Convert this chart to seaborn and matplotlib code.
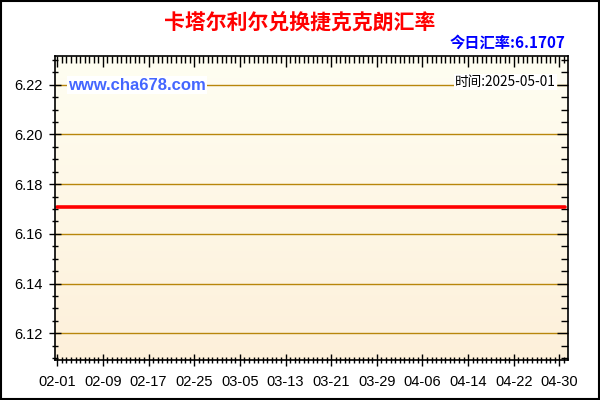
import numpy as np
import pandas as pd
import matplotlib
matplotlib.use("Agg")
import matplotlib.pyplot as plt
import matplotlib.lines as mlines
from matplotlib.ticker import MultipleLocator
from matplotlib.colors import LinearSegmentedColormap
import seaborn as sns

# ---- data ----
dates = ["2025-02-01", "2025-05-01"]
rates = [6.1707, 6.1707]
tick_labels = ["02-01", "02-09", "02-17", "02-25", "03-05", "03-13",
               "03-21", "03-29", "04-06", "04-14", "04-22", "04-30"]
y_ticks = [6.12, 6.14, 6.16, 6.18, 6.20, 6.22]
title = "卡塔尔利尔兑换捷克克朗汇率"
today_text = "今日汇率:6.1707"
site_text = "www.cha678.com"
time_text = "时间:2025-05-01"

sns.set_theme(style="ticks")
plt.rcParams['font.family'] = ['Liberation Sans', 'Noto Sans CJK SC', 'DejaVu Sans']

start = pd.Timestamp("2025-02-01")
df = pd.DataFrame({
    "day": [(pd.Timestamp(d) - start).days for d in dates],
    "rate": rates,
})
tick_pos = [(pd.Timestamp("2025-" + t) - start).days for t in tick_labels]

fig = plt.figure(figsize=(6, 4), dpi=100, facecolor="white")
ax = fig.add_axes([55 / 600, 40 / 400, 513 / 600, 304 / 400])
ax.set_axisbelow(False)

# gradient background
cmap = LinearSegmentedColormap.from_list("bg", ["#FDF0DA", "#FFFEF2"])
grad = np.linspace(0, 1, 256).reshape(-1, 1)
ax.imshow(grad, cmap=cmap, extent=[0, 1, 0, 1], transform=ax.transAxes,
          aspect="auto", origin="lower", zorder=0)

sns.lineplot(data=df, x="day", y="rate", ax=ax, color="#FF0000",
             linewidth=2.6, zorder=3)

ax.set_xlim(-0.4, 89.5)
ax.set_ylim(6.1092, 6.2316)

# grid lines
for yv in y_ticks:
    ax.axhline(yv, color="#B8860B", linewidth=1.0, zorder=2)

ax.set_xlabel("")
ax.set_ylabel("")
ax.set_xticks(tick_pos)
ax.set_xticklabels(tick_labels, fontsize=10.5, color="#000000")
ax.xaxis.set_minor_locator(MultipleLocator(0.8))
ax.set_yticks(y_ticks)
ax.set_yticklabels([f"{v:.2f}" for v in y_ticks], fontsize=10.5, color="#000000")
ax.yaxis.set_minor_locator(MultipleLocator(0.005))

ax.tick_params(axis="both", which="major", direction="inout", length=8,
               width=1.0, color="#000000", bottom=True, top=True, left=True,
               right=True, labeltop=False, labelright=False)
ax.tick_params(axis="both", which="minor", direction="inout", length=5,
               width=1.0, color="#000000", bottom=True, top=True, left=True,
               right=True)
ax.tick_params(axis="x", which="major", pad=7)
ax.tick_params(axis="y", which="major", pad=5)

for s in ax.spines.values():
    s.set_color("black")
    s.set_linewidth(1.2)
    s.set_zorder(5)

# top / right ticks pointing inward only
for t in ax.xaxis.get_major_ticks() + ax.xaxis.get_minor_ticks():
    t.tick2line.set_marker(mlines.TICKDOWN)
for t in ax.yaxis.get_major_ticks() + ax.yaxis.get_minor_ticks():
    t.tick2line.set_marker(mlines.TICKLEFT)

# texts
fig.text(0.5, 1 - 22 / 400, title, color="#FF0000", fontsize=15,
         fontweight="bold", ha="center", va="center",
         family=['Noto Sans CJK SC', 'DejaVu Sans'])
fig.text(565 / 600, 1 - 43 / 400, today_text, color="#0000FF", fontsize=11,
         fontweight="bold", ha="right", va="center",
         family=['Noto Sans CJK SC', 'DejaVu Sans'])
fig.text(68 / 600, 1 - 85 / 400, site_text, color="#4466FF", fontsize=12,
         fontweight="bold", ha="left", va="center", zorder=6,
         bbox=dict(facecolor="white", edgecolor="none", pad=1),
         family=['Liberation Sans', 'DejaVu Sans'])
fig.text(556 / 600, 1 - 82 / 400, time_text, color="#000000", fontsize=9.8,
         ha="right", va="center", zorder=6,
         bbox=dict(facecolor="white", edgecolor="none", pad=1),
         family=['Noto Sans CJK SC', 'DejaVu Sans'])

# figure border
fig.patches.append(plt.Rectangle((0.001, 0.002), 0.997, 0.996, transform=fig.transFigure,
                                 fill=False, edgecolor="black", linewidth=1.5))

fig.savefig("out.png", dpi=100, facecolor="white")
